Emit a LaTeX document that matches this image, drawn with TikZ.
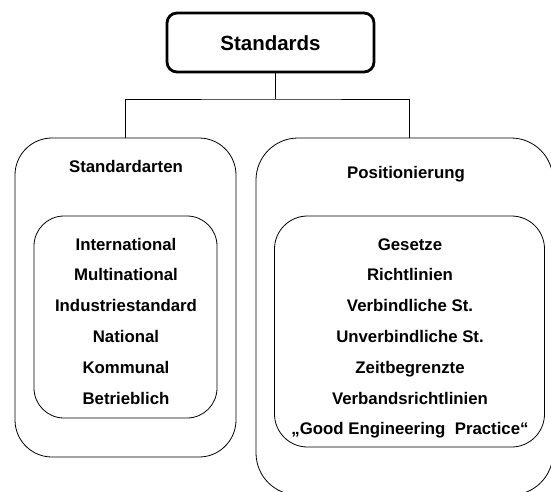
\documentclass[tikz,border=0pt]{standalone}
\usepackage{fontspec}
\setmainfont{Liberation Sans}
\begin{document}
\begin{tikzpicture}[x=1pt,y=-1pt,
  thin line/.style={draw=black,line width=0.8pt},
  box/.style={thin line,rectangle,inner sep=0pt},
  topbox/.style={draw=black,line width=2.8pt,rectangle,rounded corners=10pt,inner sep=0pt},
  item/.style={anchor=base,inner sep=0pt,font=\fontsize{16.8}{20}\selectfont\bfseries},
  title/.style={anchor=base,inner sep=0pt,font=\fontsize{20.5}{24}\selectfont\bfseries}]
\useasboundingbox (0,0) rectangle (551,491);
\clip (0,0) rectangle (551,491);
% boxes
\node[topbox,minimum width=207pt,minimum height=59pt] (std) at (270.5,42.5) {};
\node[title] (stdt) at (270.5,50) {Standards};
\node[box,rounded corners=37pt,minimum width=221pt,minimum height=319pt] (lo) at (125.5,297.5) {};
\node[box,rounded corners=30pt,minimum width=183pt,minimum height=202pt] (li) at (125.5,317) {};
\node[box,rounded corners=42pt,minimum width=297pt,minimum height=357pt] (ro) at (404.5,316.5) {};
\node[box,rounded corners=33pt,minimum width=270pt,minimum height=231pt] (ri) at (409.5,331.5) {};
% connectors
\coordinate (hub) at (275,99);
\coordinate (rojoin) at (409,138);
\draw[thin line] (hub |- std.south) -- (hub);
\draw[thin line] (lo.north) |- (hub) -| (rojoin);
% titles
\node[item] (tl) at (126,172.5) {Standardarten};
\node[item] (tr) at (406,178) {Positionierung};
% left items
\node[item] (l1) at (126,250) {International};
\node[item] (l2) at (126,280.8) {Multinational};
\node[item] (l3) at (126,311.6) {Industriestandard};
\node[item] (l4) at (126,342.4) {National};
\node[item] (l5) at (126,373.2) {Kommunal};
\node[item] (l6) at (126,404) {Betrieblich};
% right items
\node[item] (r1) at (410,250) {Gesetze};
\node[item] (r2) at (410,280.8) {Richtlinien};
\node[item] (r3) at (410,311.6) {Verbindliche St.};
\node[item] (r4) at (410,342.4) {Unverbindliche St.};
\node[item] (r5) at (410,373.2) {Zeitbegrenzte};
\node[item] (r6) at (410,404) {Verbandsrichtlinien};
\node[item] (r7) at (410,434.8) {„Good Engineering\ \ Practice“};
\end{tikzpicture}
\end{document}
